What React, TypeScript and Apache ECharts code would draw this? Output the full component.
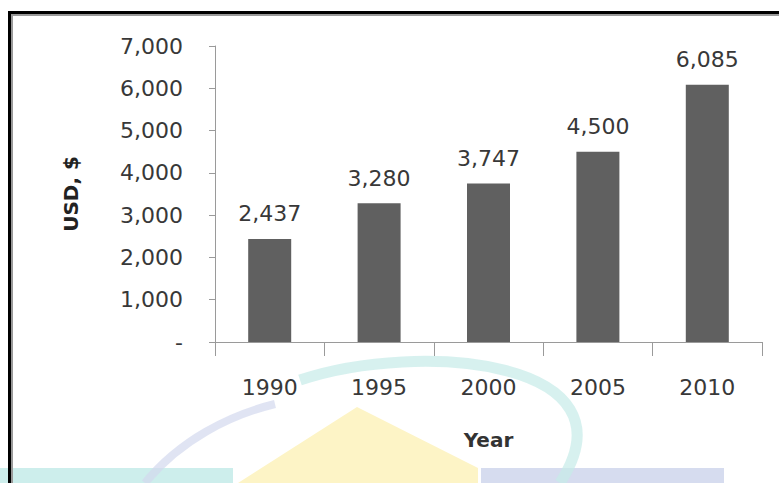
import React, { useEffect, useRef } from "react";
import * as echarts from "echarts";

const years = ["1990", "1995", "2000", "2005", "2010"];
const usd = [2437, 3280, 3747, 4500, 6085];
const yTicks = { min: 0, max: 7000, interval: 1000 };

const FONT = "'DejaVu Sans', Verdana, sans-serif";
const AXIS = "#9a9a9a";

export default function App() {
  const ref = useRef<HTMLDivElement>(null);
  useEffect(() => {
    if (!ref.current) return;
    const chart = echarts.init(ref.current, undefined, { renderer: "svg" });
    chart.setOption({
      animation: false,
      backgroundColor: "#ffffff",
      graphic: [
        // watermark shapes
        { type: "rect", z: 0, shape: { x: 0, y: 468, width: 233, height: 20 }, style: { fill: "#cdeeec" } },
        { type: "rect", z: 0, shape: { x: 481, y: 468, width: 243, height: 20 }, style: { fill: "#d6dcef" } },
        { type: "polygon", z: 0, shape: { points: [[238, 483], [357, 407], [478, 468], [478, 483]] }, style: { fill: "#fdf4c6" } },
        {
          type: "bezierCurve", z: 0,
          shape: { x1: 300, y1: 380, cpx1: 420, cpy1: 340, cpx2: 640, cpy2: 360, x2: 560, y2: 483 },
          style: { stroke: "#c6ebe8", lineWidth: 11, fill: "none", opacity: 0.7 },
        },
        {
          type: "bezierCurve", z: 0,
          shape: { x1: 145, y1: 483, cpx1: 180, cpy1: 440, cpx2: 230, cpy2: 415, x2: 275, y2: 404 },
          style: { stroke: "#d3d8ee", lineWidth: 8, fill: "none", opacity: 0.7 },
        },
        // frame
        { type: "rect", z: 10, shape: { x: 9.5, y: 12.5, width: 900, height: 600 }, style: { stroke: "#000000", lineWidth: 3, fill: "none" } },
        { type: "rect", z: 10, shape: { x: 12, y: 15, width: 900, height: 600 }, style: { stroke: "#9a9a9a", lineWidth: 2, fill: "none" } },
      ],
      grid: { left: 215, right: 17, top: 46, bottom: 141, containLabel: false },
      xAxis: {
        type: "category",
        data: years,
        name: "Year",
        nameLocation: "middle",
        nameGap: 88,
        nameTextStyle: { fontFamily: FONT, fontSize: 20, fontWeight: "bold", color: "#333333", verticalAlign: "top" },
        axisLine: { lineStyle: { color: AXIS, width: 1 } },
        axisTick: { show: true, alignWithLabel: false, length: 14, lineStyle: { color: AXIS, width: 1 } },
        axisLabel: { fontFamily: FONT, fontSize: 22, color: "#383838", margin: 34 },
      },
      yAxis: {
        type: "value",
        min: yTicks.min,
        max: yTicks.max,
        interval: yTicks.interval,
        name: "USD, $",
        nameLocation: "middle",
        nameGap: 134,
        nameRotate: 90,
        nameTextStyle: { fontFamily: FONT, fontSize: 20, fontWeight: "bold", color: "#222222" },
        splitLine: { show: false },
        axisLine: { show: true, lineStyle: { color: AXIS, width: 1 } },
        axisTick: { show: true, length: 6, lineStyle: { color: AXIS, width: 1 } },
        axisLabel: {
          fontFamily: FONT,
          fontSize: 22,
          color: "#383838",
          margin: 32,
          formatter: (v: number) => (v === 0 ? "-" : v.toLocaleString("en-US")),
        },
      },
      series: [
        {
          type: "bar",
          data: usd,
          barWidth: 43,
          z: 2,
          itemStyle: { color: "#606060" },
          label: {
            show: true,
            position: "top",
            distance: 14,
            fontFamily: FONT,
            fontSize: 22,
            color: "#383838",
            formatter: (p: any) => Number(p.value).toLocaleString("en-US"),
          },
        },
      ],
    });
    return () => chart.dispose();
  }, []);
  return (
    <div
      ref={ref}
      style={{ position: "absolute", left: 0, top: 0, width: 779, height: 483, background: "#fff" }}
    />
  );
}
